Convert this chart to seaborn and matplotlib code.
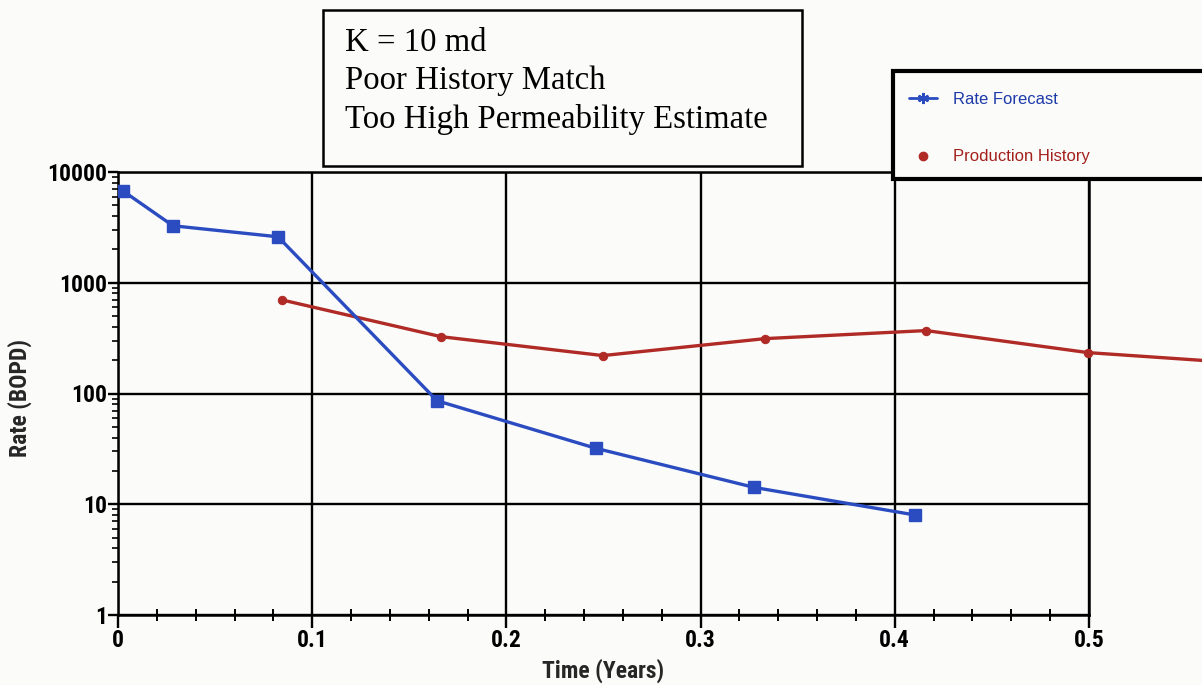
import matplotlib
matplotlib.use("Agg")
import matplotlib.pyplot as plt
import seaborn as sns
import pandas as pd
from matplotlib import font_manager as fm
from matplotlib.lines import Line2D
from matplotlib.patches import Rectangle
from matplotlib.ticker import FixedLocator, MultipleLocator, LogLocator, NullFormatter, FuncFormatter

# ---- data -------------------------------------------------------------
forecast_time = [0.0026, 0.0283, 0.0824, 0.1643, 0.2461, 0.3275, 0.4104]
forecast_rate = [6740, 3270, 2600, 86, 32, 14.2, 8.0]

history_time = [0.0844, 0.1663, 0.2497, 0.3332, 0.4161, 0.4995, 0.5830]
history_rate = [700, 326, 220, 313, 370, 234, 186]

rate_ticks = [1, 10, 100, 1000, 10000]
time_ticks = [0, 0.1, 0.2, 0.3, 0.4, 0.5]

series_names = ["Rate Forecast", "Production History"]
note_lines = ["K = 10 md", "Poor History Match", "Too High Permeability Estimate"]

# ---- styling ----------------------------------------------------------
W, H = 1202, 685
PAPER = "#fbfbfa"
BLUE = "#2a4cc0"
RED = "#b02a26"
BLUE_TXT = "#1d3aa8"
RED_TXT = "#a3201c"

sns.set_style("white")

avail = {f.name for f in fm.fontManager.ttflist}


def pick(*names):
    for n in names:
        if n in avail:
            return n
    return "DejaVu Sans"


narrow = pick("Liberation Sans Narrow", "Arial Narrow", "Roboto Condensed", "DejaVu Sans")
narrow_stretch = "normal" if narrow != "DejaVu Sans" else "condensed"
sans = pick("Liberation Sans", "Arial", "DejaVu Sans")
serif = pick("Liberation Serif", "Times New Roman", "DejaVu Serif")

plt.rcParams["font.family"] = [narrow, "DejaVu Sans"]
plt.rcParams["font.weight"] = "bold"
plt.rcParams["font.stretch"] = narrow_stretch


def fx(x):
    return x / W


def fy(y):
    return 1 - y / H


fig = plt.figure(figsize=(W / 100, H / 100), dpi=100, facecolor=PAPER)
ax = fig.add_axes([fx(118), fy(615), (1089 - 118) / W, (615 - 172) / H])
ax.set_facecolor(PAPER)

forecast = pd.DataFrame({"time": forecast_time, "rate": forecast_rate})
history = pd.DataFrame({"time": history_time, "rate": history_rate})

sns.lineplot(data=forecast, x="time", y="rate", ax=ax, color=BLUE, linewidth=2.4,
             marker="s", markersize=8.5, markeredgecolor=BLUE, markeredgewidth=1,
             estimator=None, sort=False, legend=False, zorder=4)
sns.lineplot(data=history, x="time", y="rate", ax=ax, color=RED, linewidth=2.4,
             marker="o", markersize=6, markeredgecolor=RED,
             estimator=None, sort=False, legend=False, zorder=3, clip_on=False)

ax.set_yscale("log")
ax.set_xlim(0, 0.5)
ax.set_ylim(1, 10000)

ax.xaxis.set_major_locator(FixedLocator(time_ticks))
ax.xaxis.set_minor_locator(MultipleLocator(0.02))
ax.xaxis.set_major_formatter(FuncFormatter(lambda v, _: "0" if abs(v) < 1e-9 else f"{v:g}"))
ax.yaxis.set_major_locator(FixedLocator(rate_ticks))
ax.yaxis.set_minor_locator(LogLocator(base=10, subs=range(2, 10)))
ax.yaxis.set_minor_formatter(NullFormatter())
ax.yaxis.set_major_formatter(FuncFormatter(lambda v, _: f"{int(round(v))}"))

ax.grid(True, which="major", color="black", linewidth=1.7)
ax.grid(False, which="minor")
for s in ax.spines.values():
    s.set_color("black")
    s.set_linewidth(1.8)

ax.tick_params(which="both", bottom=True, left=True, top=False, right=False)
ax.tick_params(axis="x", which="major", direction="out", length=9, width=1.7,
               pad=1, labelsize=17, colors="black")
ax.tick_params(axis="x", which="minor", direction="inout", length=9, width=1.4,
               colors="black")
ax.tick_params(axis="y", which="major", direction="out", length=7, width=1.7,
               pad=1, labelsize=17, colors="black")
ax.tick_params(axis="y", which="minor", direction="out", length=4, width=1.2,
               colors="black")

ax.set_xlabel("Time (Years)", fontsize=17, fontweight="bold")
ax.set_ylabel("Rate (BOPD)", fontsize=17, fontweight="bold")
ax.xaxis.set_label_coords((603 - 118) / 971, (615 - 659) / 443)
ax.yaxis.set_label_coords((32 - 118) / 971, (615 - 398) / 443)

# ---- annotation box ---------------------------------------------------
fig.add_artist(Rectangle((fx(323), fy(166)), (802 - 323) / W, (166 - 10) / H,
                         transform=fig.transFigure, fill=False,
                         edgecolor="black", linewidth=1.8))
for text, base in zip(note_lines, [51, 89, 128]):
    fig.text(fx(345), fy(base), text, family=serif, fontweight="normal",
             fontstretch="normal", fontsize=23.6, va="baseline", ha="left",
             color="black")

# ---- legend box ---------------------------------------------------------
fig.add_artist(Rectangle((fx(893), fy(179)), (1230 - 893) / W, (179 - 71) / H,
                         transform=fig.transFigure, fill=True, facecolor=PAPER,
                         edgecolor="black", linewidth=3, zorder=5))
handles = [
    Line2D([], [], color=BLUE, linewidth=2, marker=(6, 2, 0), markersize=8,
           markeredgewidth=1.5, markeredgecolor=BLUE),
    Line2D([], [], color=RED, linestyle="none", marker="o", markersize=6,
           markeredgecolor=RED),
]
leg = fig.legend(handles, series_names, loc="upper left",
                 bbox_to_anchor=(fx(909), fy(92)), bbox_transform=fig.transFigure,
                 frameon=False, borderpad=0, borderaxespad=0,
                 handlelength=1.7, handletextpad=0.95, labelspacing=2.55,
                 prop=fm.FontProperties(family=sans, size=12, weight="normal",
                                        stretch="normal"))
leg.set_zorder(6)
for t, c in zip(leg.get_texts(), [BLUE_TXT, RED_TXT]):
    t.set_color(c)

fig.savefig("out.png", dpi=100, facecolor=PAPER)
